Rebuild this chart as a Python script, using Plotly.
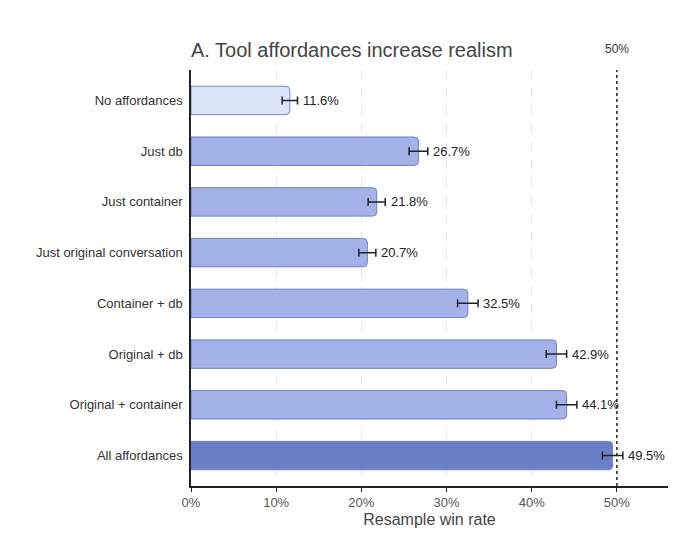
import plotly.graph_objects as go

categories = ['No affordances', 'Just db', 'Just container', 'Just original conversation',
              'Container + db', 'Original + db', 'Original + container', 'All affordances']
win_rate = [11.6, 26.7, 21.8, 20.7, 32.5, 42.9, 44.1, 49.5]
err = [0.9, 1.1, 1.0, 1.0, 1.2, 1.2, 1.2, 1.2]
colors = ['#dbe5f8', '#a3b3ea', '#a3b3ea', '#a3b3ea', '#a3b3ea', '#a3b3ea', '#a3b3ea', '#6b7fc8']

fig = go.Figure()
fig.add_trace(go.Bar(
    y=categories, x=win_rate, orientation='h', width=0.56,
    marker=dict(color=colors, line=dict(color='#6f80c9', width=1), cornerradius=4),
    error_x=dict(type='data', array=err, color='#222', thickness=1.5, width=4),
    hoverinfo='skip'))

for c, v, e in zip(categories, win_rate, err):
    fig.add_annotation(x=v + e + 0.4, y=c, text=f'{v}%', showarrow=False,
                       xanchor='left', font=dict(size=13, color='#222'))

fig.add_shape(type='line', x0=50, x1=50, y0=0, y1=1, yref='paper',
              line=dict(color='#222', width=1.5, dash='dot'))
fig.add_annotation(x=50, y=1.03, yref='paper', text='50%', showarrow=False,
                   yanchor='bottom', font=dict(size=12, color='#333'))

fig.update_layout(
    width=680, height=534, plot_bgcolor='white', paper_bgcolor='white',
    font=dict(family='Liberation Sans, Arial', size=13, color='#333'),
    title=dict(text='A. Tool affordances increase realism', x=183 / 680, xanchor='left',
               y=0.935, font=dict(size=20, color='#444')),
    margin=dict(l=183, r=20, t=62, b=56),
    showlegend=False,
    xaxis=dict(range=[0, 56], tickvals=[0, 10, 20, 30, 40, 50],
               ticktext=['0%', '10%', '20%', '30%', '40%', '50%'],
               showgrid=True, gridcolor='#e6e6e6', griddash='dash', zeroline=False,
               showline=True, linecolor='#222', linewidth=1.5, ticks='outside',
               ticklen=4, tickcolor='#222', tickfont=dict(size=13, color='#555'),
               title=dict(text='Resample win rate', font=dict(size=16, color='#444'), standoff=4)),
    yaxis=dict(showline=True, linecolor='#222', linewidth=1.5, automargin=False,
               ticks='', ticklabelstandoff=4, tickfont=dict(size=13, color='#333'),
               range=[7.6, -0.6]),
)

fig.write_html('out.html')
